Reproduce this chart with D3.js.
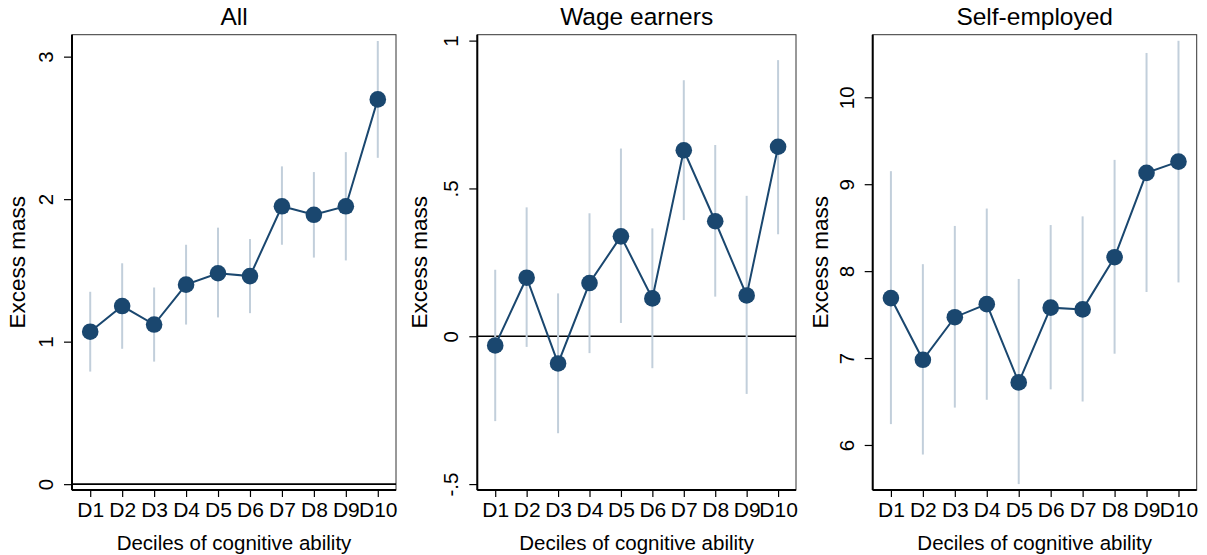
<!DOCTYPE html>
<html>
<head>
<meta charset="utf-8">
<script src="https://cdn.jsdelivr.net/npm/d3@7"></script>
<style>
  body { margin: 0; background: #fff; }
  svg { font-family: "Liberation Sans", Arial, sans-serif; }
</style>
</head>
<body>
<svg width="1207" height="555"></svg>
<script>
// data
const deciles = ['D1', 'D2', 'D3', 'D4', 'D5', 'D6', 'D7', 'D8', 'D9', 'D10']

const allEst = [1.07, 1.25, 1.12, 1.40, 1.48, 1.46, 1.95, 1.89, 1.95, 2.70]
const allLo  = [0.79, 0.95, 0.86, 1.12, 1.17, 1.20, 1.68, 1.59, 1.57, 2.29]
const allHi  = [1.35, 1.55, 1.38, 1.68, 1.80, 1.72, 2.23, 2.19, 2.33, 3.11]

const wageEst = [-0.031, 0.198, -0.092, 0.180, 0.338, 0.128, 0.629, 0.389, 0.138, 0.641]
const wageLo  = [-0.287, -0.036, -0.328, -0.057, 0.045, -0.108, 0.393, 0.134, -0.195, 0.345]
const wageHi  = [0.225, 0.436, 0.145, 0.416, 0.635, 0.365, 0.866, 0.647, 0.475, 0.934]

const selfEst = [7.69, 6.98, 7.47, 7.62, 6.72, 7.58, 7.56, 8.16, 9.13, 9.26]
const selfLo  = [6.24, 5.89, 6.43, 6.52, 5.55, 6.64, 6.50, 7.05, 7.76, 7.87]
const selfHi  = [9.15, 8.08, 8.52, 8.72, 7.91, 8.53, 8.63, 9.28, 10.51, 10.65]

const allTicks  = [0, 1, 2, 3]
const wageTicks = [-0.5, 0, 0.5, 1]
const selfTicks = [6, 7, 8, 9, 10]

const titles = ['All', 'Wage earners', 'Self-employed']

const navy = '#1a476f'
const ciColor = '#c2cfdb'
const plotTop = 34.7, plotBottom = 490

const panels = [
  { title: titles[0], est: allEst, lo: allLo, hi: allHi, ticks: allTicks,
    domain: [-0.041, 3.154], left: 72, right: 396, ytitle: 54.5, zero: true },
  { title: titles[1], est: wageEst, lo: wageLo, hi: wageHi, ticks: wageTicks,
    domain: [-0.52, 1.02], left: 477.3, right: 796, ytitle: 58, zero: true },
  { title: titles[2], est: selfEst, lo: selfLo, hi: selfHi, ticks: selfTicks,
    domain: [5.482, 10.72], left: 872.7, right: 1196.7, ytitle: 53, zero: false }
]

// stata style labels: .5 instead of 0.5
const fmt = v => String(v).replace(/^(-?)0\./, '$1.')

const svg = d3.select('svg')

panels.forEach(p => {
  const x = d3.scalePoint()
              .domain(deciles)
              .range([p.left, p.right])
              .padding(0.57)
  const y = d3.scaleLinear()
              .domain(p.domain)
              .range([plotBottom, plotTop])

  const g = svg.append('g')

  // frame
  g.append('rect')
    .attr('x', p.left).attr('y', plotTop)
    .attr('width', p.right - p.left).attr('height', plotBottom - plotTop)
    .style('fill', 'none')
    .style('stroke', '#333')
    .style('stroke-width', 1)

  if (p.zero) {
    g.append('line')
      .attr('x1', p.left).attr('x2', p.right)
      .attr('y1', y(0)).attr('y2', y(0))
      .style('stroke', '#000')
      .style('stroke-width', 1.6)
  }

  // axes
  const yAxis = g.append('g')
    .attr('transform', `translate(${p.left},0)`)
    .call(d3.axisLeft(y).tickValues(p.ticks).tickSize(8).tickFormat(fmt))
  yAxis.select('.domain').attr('d', `M0,${plotTop}V${plotBottom}`).style('stroke-width', 2)
  yAxis.selectAll('.tick line').style('stroke-width', 1.2)
  yAxis.selectAll('.tick text')
    .attr('x', null)
    .attr('transform', 'translate(-26,0) rotate(-90)')
    .attr('text-anchor', 'middle')
    .attr('dy', '0.35em')
    .style('font-size', '20.5px')
    .style('font-family', '"Liberation Sans", Arial, sans-serif')
    .style('fill', '#000')

  const xAxis = g.append('g')
    .attr('transform', `translate(0,${plotBottom})`)
    .call(d3.axisBottom(x).tickSize(7).tickPadding(5))
  xAxis.select('.domain').attr('d', `M${p.left},0H${p.right}`).style('stroke-width', 2)
  xAxis.selectAll('.tick line').style('stroke-width', 1.2)
  xAxis.selectAll('.tick text')
    .style('font-size', '21px')
    .style('font-family', '"Liberation Sans", Arial, sans-serif')
    .style('fill', '#000')

  // confidence intervals
  g.selectAll('.ci')
    .data(deciles)
    .enter()
    .append('line')
      .attr('x1', d => x(d)).attr('x2', d => x(d))
      .attr('y1', (d, i) => y(p.lo[i]))
      .attr('y2', (d, i) => y(p.hi[i]))
      .style('stroke', ciColor)
      .style('stroke-width', 2)

  const line = d3.line()
    .x((d, i) => x(deciles[i]))
    .y(d => y(d))

  g.append('path')
    .datum(p.est)
    .attr('d', line)
    .style('fill', 'none')
    .style('stroke', navy)
    .style('stroke-width', 2)

  g.selectAll('.pt')
    .data(p.est)
    .enter()
    .append('circle')
      .attr('cx', (d, i) => x(deciles[i]))
      .attr('cy', d => y(d))
      .attr('r', 8.3)
      .style('fill', navy)

  // titles
  const cx = (p.left + p.right) / 2
  g.append('text')
    .attr('x', cx).attr('y', 25)
    .attr('text-anchor', 'middle')
    .style('font-size', '24.5px')
    .text(p.title)

  g.append('text')
    .attr('x', cx).attr('y', 543)
    .attr('dy', '0.35em')
    .attr('text-anchor', 'middle')
    .style('font-size', '20.5px')
    .text('Deciles of cognitive ability')

  g.append('text')
    .attr('transform', `translate(${p.left - p.ytitle},${(plotTop + plotBottom) / 2}) rotate(-90)`)
    .attr('dy', '0.35em')
    .attr('text-anchor', 'middle')
    .style('font-size', '22.5px')
    .text('Excess mass')
})
</script>
</body>
</html>
